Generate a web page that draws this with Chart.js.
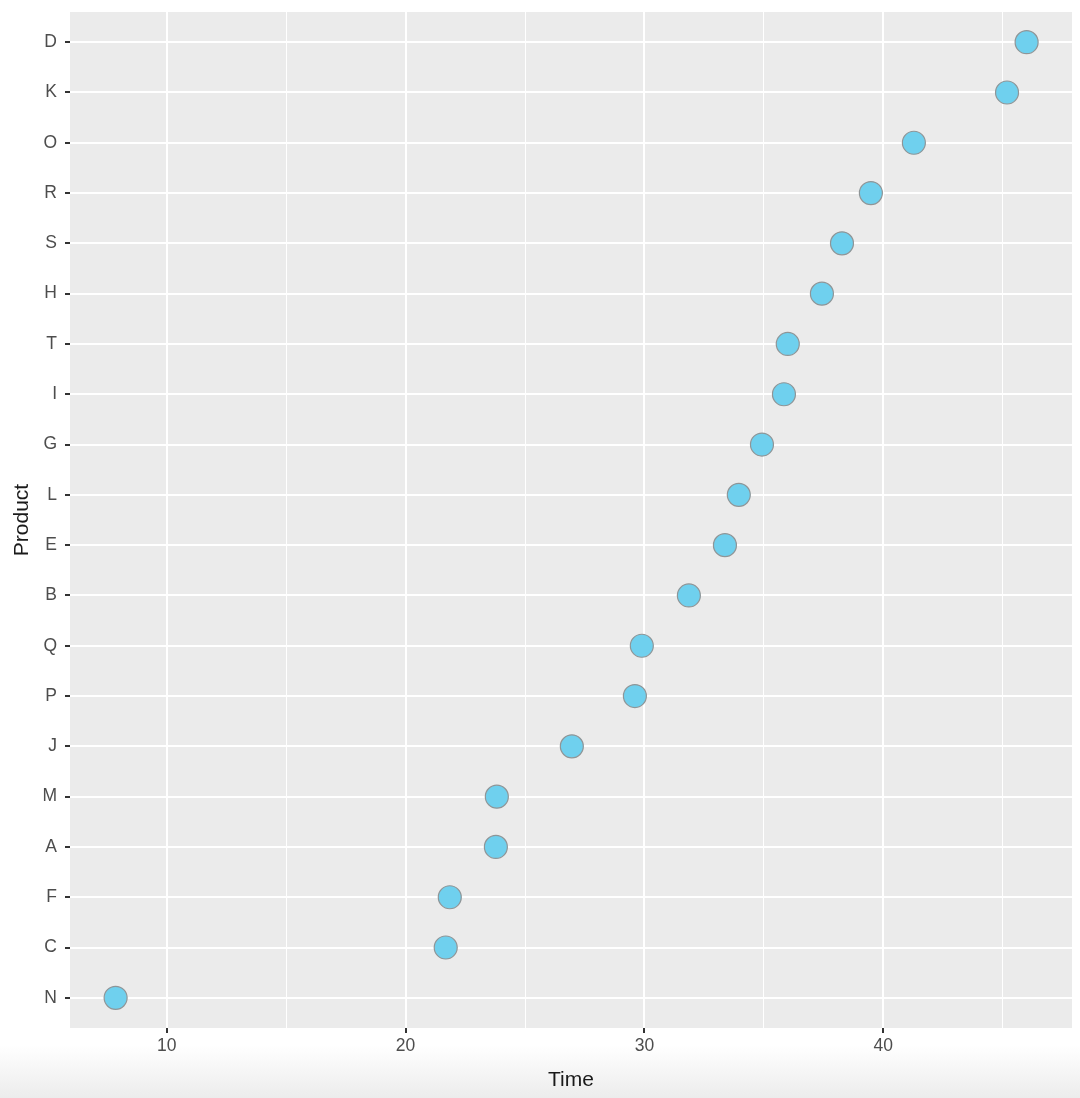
<!DOCTYPE html>
<html lang="en">
<head>
<meta charset="UTF-8">
<title>Time by Product</title>
<script src="https://cdn.jsdelivr.net/npm/chart.js"></script>
<style>
  html, body { margin: 0; padding: 0; }
  body { width: 1080px; height: 1098px; background: linear-gradient(to bottom, #fff 0, #fff 1045px, #ececec 1098px); }
  .wrap { position: relative; width: 1080px; height: 1098px; }
</style>
</head>
<body>
<div class="wrap"><canvas id="chart" width="1080" height="1098"></canvas></div>
<script>
// products from bottom (N) to top (D), ordered by time
const products = ['N', 'C', 'F', 'A', 'M', 'J', 'P', 'Q', 'B', 'E', 'L', 'G', 'I', 'T', 'H', 'S', 'R', 'O', 'K', 'D'];
const times = [7.86, 21.68, 21.85, 23.78, 23.82, 26.96, 29.6, 29.89, 31.86, 33.37, 33.95, 34.92, 35.84, 36.0, 37.43, 38.27, 39.48, 41.28, 45.18, 46.0];
const xTicks = [10, 15, 20, 25, 30, 35, 40, 45];
const xLabelled = [10, 20, 30, 40];

const FONT = "'Liberation Sans', Arial, sans-serif";

const panelBg = {
  id: 'panelBg',
  beforeDraw(chart) {
    const { ctx, chartArea: a } = chart;
    ctx.save();
    ctx.fillStyle = '#ebebeb';
    ctx.fillRect(a.left, a.top, a.right - a.left, a.bottom - a.top);
    ctx.restore();
  }
};

new Chart(document.getElementById('chart'), {
  type: 'scatter',
  data: {
    datasets: [{
      data: products.map((p, i) => ({ x: times[i], y: i + 1 })),
      backgroundColor: '#6fd0ee',
      borderColor: '#8f9597',
      borderWidth: 1.2,
      pointRadius: 11.5,
      pointHoverRadius: 11.5
    }]
  },
  options: {
    responsive: false,
    animation: false,
    layout: { autoPadding: false, padding: { left: 0, right: 8, top: 12, bottom: 0 } },
    plugins: { legend: { display: false }, tooltip: { enabled: false } },
    scales: {
      x: {
        type: 'linear',
        min: 5.95,
        max: 47.9,
        afterBuildTicks: s => { s.ticks = xTicks.map(v => ({ value: v })); },
        afterFit: s => { s.height = 70; s.paddingLeft = 0; s.paddingRight = 0; },
        border: { display: false },
        grid: {
          color: '#ffffff',
          lineWidth: c => (xLabelled.includes(c.tick.value) ? 2 : 1),
          tickLength: 5,
          tickWidth: 2,
          tickColor: c => (xLabelled.includes(c.tick.value) ? '#333333' : 'rgba(0,0,0,0)')
        },
        ticks: {
          autoSkip: false,
          maxRotation: 0,
          padding: 3,
          color: '#4d4d4d',
          font: { family: FONT, size: 17.5 },
          callback: v => (xLabelled.includes(v) ? String(v) : '')
        },
        title: {
          display: true,
          text: 'Time',
          color: '#1a1a1a',
          font: { family: FONT, size: 21 },
          padding: { top: 1, bottom: 5 }
        }
      },
      y: {
        type: 'linear',
        min: 0.4,
        max: products.length + 0.6,
        afterBuildTicks: s => { s.ticks = products.map((p, i) => ({ value: i + 1 })); },
        afterFit: s => { s.width = 70; s.paddingTop = 0; s.paddingBottom = 0; },
        border: { display: false },
        grid: {
          color: '#ffffff',
          lineWidth: 2,
          tickLength: 5,
          tickWidth: 2,
          tickColor: '#333333'
        },
        ticks: {
          autoSkip: false,
          padding: 8,
          color: '#4d4d4d',
          font: { family: FONT, size: 17.5 },
          callback: v => products[v - 1] || ''
        },
        title: {
          display: true,
          text: 'Product',
          color: '#1a1a1a',
          font: { family: FONT, size: 21 },
          padding: { top: 10, bottom: 0 }
        }
      }
    }
  },
  plugins: [panelBg]
});
</script>
</body>
</html>
